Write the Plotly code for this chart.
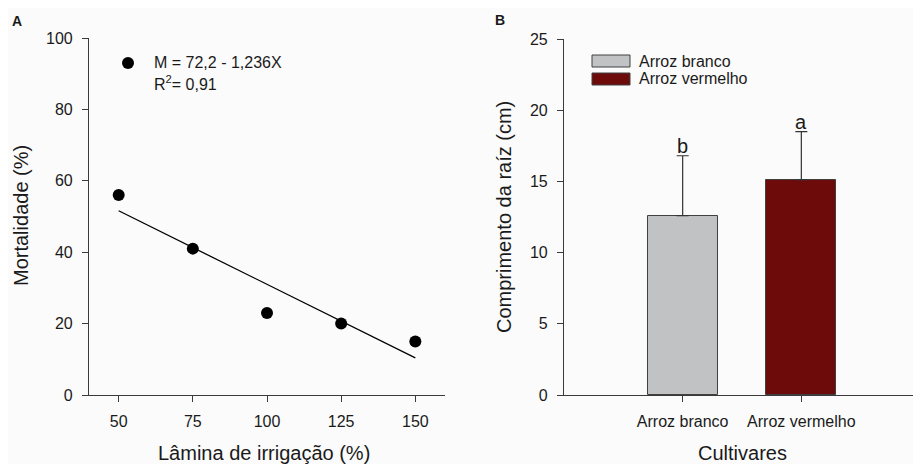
import plotly.graph_objects as go

# ---- Data ----
lamina = [50, 75, 100, 125, 150]
mortalidade = [56, 41, 23, 20, 15]
fit_x = [50, 150]
fit_y = [51.6, 10.4]
eq_text = "M = 72,2 - 1,236X"
r2_text = "R<sup>2</sup>= 0,91"

cultivares = ["Arroz branco", "Arroz vermelho"]
comprimento = [12.6, 15.1]
erro = [4.2, 3.4]
letras = ["b", "a"]
bar_colors = ["#c0c2c3", "#6d0b0b"]

W, H = 921, 464
OFF = 8  # page body margin
FONT = "Liberation Sans, Arial, sans-serif"
TXT = "#1a1a1a"
AX = "#3a3a3a"

def px(x):
    return (x - OFF) / W

def py(y):
    return 1 - (y - OFF) / H

fig = go.Figure()

# Panel A
fig.add_trace(go.Scatter(x=fit_x, y=fit_y, mode="lines",
                         line=dict(color="black", width=1.3),
                         xaxis="x", yaxis="y", showlegend=False, hoverinfo="skip"))
fig.add_trace(go.Scatter(x=lamina, y=mortalidade, mode="markers",
                         marker=dict(color="black", size=12),
                         xaxis="x", yaxis="y", showlegend=False))

# Panel B
fig.add_trace(go.Bar(x=cultivares, y=comprimento, width=0.59,
                     marker=dict(color=bar_colors, line=dict(color="#404040", width=1)),
                     error_y=dict(type="data", symmetric=False, array=erro,
                                  arrayminus=[0] * len(erro), color="#333333",
                                  thickness=1.2, width=6),
                     xaxis="x2", yaxis="y2", showlegend=False))

axis_common = dict(showline=True, linecolor=AX, linewidth=1.2, ticks="outside",
                   ticklen=6, tickcolor=AX, tickwidth=1, showgrid=False, zeroline=False,
                   automargin=False,
                   tickfont=dict(family=FONT, size=16, color=TXT), ticklabelstandoff=6)

fig.update_layout(
    template="none",
    width=W, height=H, autosize=False,
    margin=dict(l=0, r=0, t=0, b=0, pad=0),
    paper_bgcolor="#fbfbfb", plot_bgcolor="#fbfbfb",
    font=dict(family=FONT, color=TXT),
    bargap=0,
    xaxis=dict(domain=[px(89), px(445)], range=[40, 160], tickvals=lamina,
               anchor="y", **axis_common),
    yaxis=dict(domain=[py(395), py(38)], range=[0, 100], tickvals=[0, 20, 40, 60, 80, 100],
               anchor="x", **axis_common),
    xaxis2=dict(domain=[px(564), px(920)], range=[-1, 2], type="category",
                anchor="y2", **axis_common),
    yaxis2=dict(domain=[py(395), py(39)], range=[0, 25], tickvals=[0, 5, 10, 15, 20, 25],
                anchor="x2", **axis_common),
)

def pann(text, x, y, size, xanchor="center", yanchor="middle", angle=0, bold=False):
    return dict(text=text, x=px(x), y=py(y), xref="paper", yref="paper",
                xanchor=xanchor, yanchor=yanchor, textangle=angle, showarrow=False,
                font=dict(size=size, family=FONT, color=TXT))

ann = [
    pann("<b>A</b>", 17, 21, 14),
    pann("<b>B</b>", 500, 20, 14),
    pann("Lâmina de irrigação (%)", 264, 453, 20),
    pann("Mortalidade (%)", 21, 216, 20, angle=-90),
    pann("Cultivares", 742, 453, 20),
    pann("Comprimento da raíz (cm)", 504, 217, 20, angle=-90),
    pann(eq_text, 152, 63, 16, xanchor="left"),
    pann(r2_text, 152, 83, 16, xanchor="left"),
]
for name, yy in zip(cultivares, [61, 79]):
    ann.append(pann(name, 637, yy, 16, xanchor="left"))
# significance letters
for c, v, e, l in zip(cultivares, comprimento, erro, letras):
    ann.append(dict(text=l, x=c, y=v + e, xref="x2", yref="y2", xanchor="center",
                    yanchor="bottom", showarrow=False, yshift=-3,
                    font=dict(size=20, family=FONT, color=TXT)))

shapes = [
    dict(type="circle", xref="paper", yref="paper", x0=px(122), x1=px(134), y0=py(69), y1=py(57),
         fillcolor="black", line=dict(color="black", width=0)),
]
for col, (y0, y1) in zip(bar_colors, [(55, 67), (73, 85)]):
    shapes.append(dict(type="rect", xref="paper", yref="paper", x0=px(592), x1=px(630),
                       y0=py(y1), y1=py(y0), fillcolor=col, line=dict(color="#404040", width=1)))

fig.update_layout(annotations=ann, shapes=shapes)

fig.write_html("out.html")
